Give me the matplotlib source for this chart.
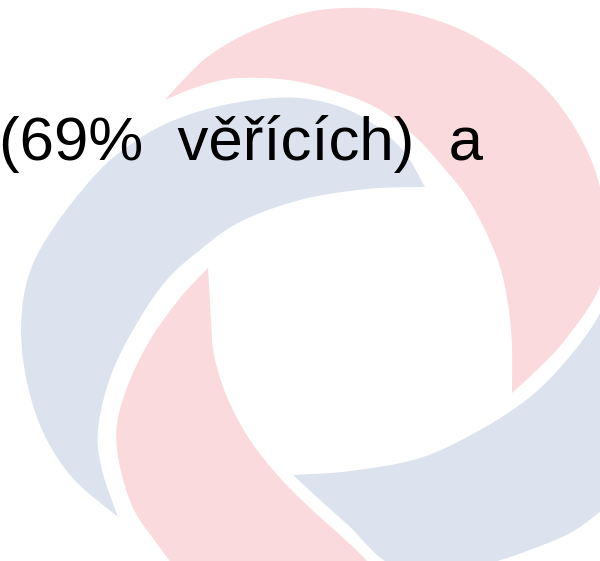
import numpy as np
import matplotlib
matplotlib.use("Agg")
from matplotlib import pyplot as plt
from matplotlib.patches import Polygon

# Swirl blades, traced in image pixels (x right, y down).
# Each blade has two edges that both start at its inner tip.
blue_left_a = [(425, 187), (400, 147), (355, 113), (300, 98), (240, 102), (185, 116),
               (140, 138), (98, 172), (50, 233), (26, 285), (22, 350), (38, 420),
               (70, 475), (118, 517)]
blue_left_b = [(425, 187), (367, 189), (300, 200), (240, 222), (200, 250), (165, 282),
               (133, 330), (110, 378), (98, 430), (102, 470), (118, 517)]

pink_top_a = [(512, 393), (540, 367), (565, 340), (596, 295), (606, 258), (605, 215),
              (595, 170), (575, 128), (545, 88), (505, 55), (455, 27), (400, 11),
              (345, 8), (300, 14), (250, 32), (210, 55), (185, 78), (165, 100)]
pink_top_b = [(512, 393), (511, 330), (500, 267), (473, 207), (443, 167), (410, 132),
              (367, 103), (300, 82), (240, 78), (200, 86), (165, 100)]

pink_bottom_a = [(208, 268), (180, 298), (150, 340), (128, 385), (117, 425), (119, 462),
                 (133, 508), (158, 545), (185, 580), (220, 620)]
pink_bottom_b = [(208, 268), (211, 320), (214, 355), (227, 397), (250, 440), (280, 478),
                 (310, 508), (340, 535), (367, 561), (400, 600)]

blue_right_a = [(293, 475), (320, 500), (350, 527), (385, 561), (420, 568), (480, 565),
                (535, 548), (580, 527), (622, 490), (660, 440), (690, 380), (698, 312),
                (685, 250), (650, 190), (605, 145)]
blue_right_b = [(293, 475), (350, 471), (420, 458), (480, 430), (530, 397), (565, 362),
                (595, 322), (615, 280), (625, 235), (620, 190), (605, 145)]

blue = '#dce3ef'
pink = '#fadadd'
blades = [(blue_left_a, blue_left_b, blue),
          (pink_top_a, pink_top_b, pink),
          (pink_bottom_a, pink_bottom_b, pink),
          (blue_right_a, blue_right_b, blue)]

text = "(69%  věřících)  a"


def smooth(pts, n=20):
    # Catmull-Rom through the traced points
    p = np.array(pts, dtype=float)
    p = np.vstack([p[0], p, p[-1]])
    out = []
    for i in range(1, len(p) - 2):
        p0, p1, p2, p3 = p[i - 1], p[i], p[i + 1], p[i + 2]
        t = np.linspace(0, 1, n, endpoint=False)[:, None]
        out.append(0.5 * ((2 * p1) + (-p0 + p2) * t
                          + (2 * p0 - 5 * p1 + 4 * p2 - p3) * t ** 2
                          + (-p0 + 3 * p1 - 3 * p2 + p3) * t ** 3))
    out.append(p[-2][None, :])
    return np.vstack(out)


fig = plt.figure(dpi=100, figsize=(6, 5.61))
ax = fig.add_axes([0, 0, 1, 1])
ax.set_xlim(0, 600)
ax.set_ylim(561, 0)
ax.axis('off')

for edge_a, edge_b, color in blades:
    outline = np.vstack([smooth(edge_a), smooth(edge_b)[::-1]])
    ax.add_patch(Polygon(outline, closed=True, fc=color, ec='none'))

ax.text(-1, 160, text, fontsize=44.5, family='Liberation Sans',
        va='baseline', ha='left', color='black')

fig.savefig('out.png', dpi=100)
